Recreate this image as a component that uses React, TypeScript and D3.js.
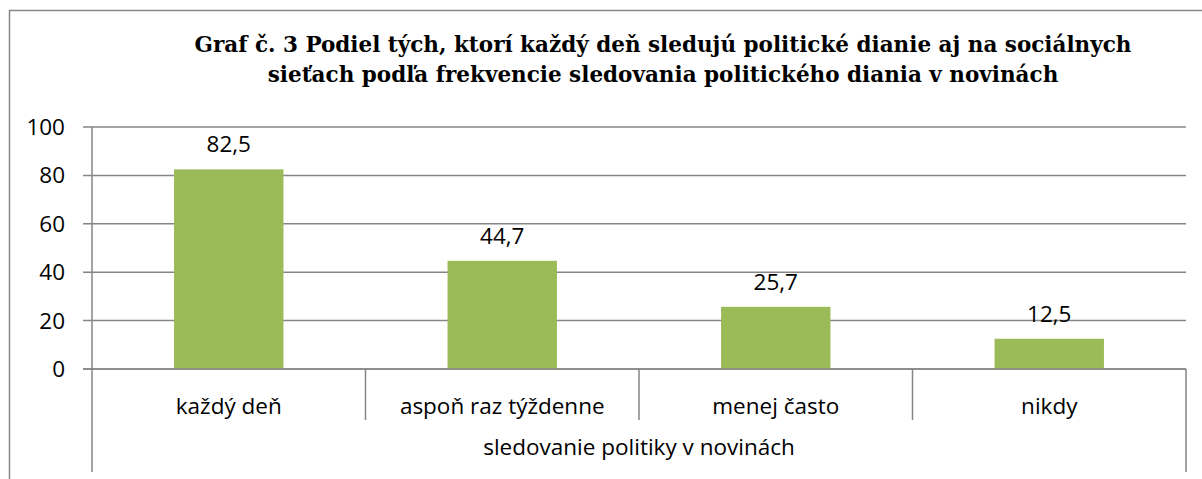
import React from "react";
import * as d3 from "d3";

const categories = ["každý deň", "aspoň raz týždenne", "menej často", "nikdy"];
const values = [82.5, 44.7, 25.7, 12.5];
const valueLabels = ["82,5", "44,7", "25,7", "12,5"];
const yTicks = [0, 20, 40, 60, 80, 100];
const titleLines = [
  "Graf č. 3 Podiel tých, ktorí každý deň sledujú politické dianie aj na sociálnych",
  "sieťach podľa frekvencie sledovania politického diania v novinách",
];
const axisTitle = "sledovanie politiky v novinách";

const W = 1202;
const H = 479;
const plotLeft = 92;
const plotRight = 1186;
const yTop = 127;
const yBottom = 369;
const gray = "#868686";
const barColor = "#9BBB59";
const sans = "'Open Sans', Lato, sans-serif";
const serif = "'DejaVu Serif', serif";
const fs = 22.5;

export default function App() {
  const x = d3
    .scaleBand<string>()
    .domain(categories)
    .range([plotLeft, plotRight])
    .paddingInner(0.6)
    .paddingOuter(0.3);
  const xOuter = d3.scaleBand<string>().domain(categories).range([plotLeft, plotRight]);
  const y = d3.scaleLinear().domain([0, 100]).range([yBottom, yTop]);

  return (
    <svg
      width={W}
      height={H}
      style={{ position: "absolute", left: 0, top: 0, background: "#fff" }}
    >
      <rect x={9.5} y={10.5} width={1210} height={490} fill="#fff" stroke={gray} strokeWidth={1.5} />
      {titleLines.map((t, i) => (
        <text
          key={i}
          x={663}
          y={52 + i * 30}
          textAnchor="middle"
          fontFamily={serif}
          fontWeight="bold"
          fontSize={21.5}
          fill="#000"
        >
          {t}
        </text>
      ))}
      {yTicks.map((t) => (
        <g key={t}>
          <line x1={83} x2={plotRight} y1={y(t)} y2={y(t)} stroke={gray} strokeWidth={1.5} />
          <text
            x={65}
            y={y(t) + 8}
            textAnchor="end"
            fontFamily={sans}
            fontSize={fs}
            fill="#000"
          >
            {t}
          </text>
        </g>
      ))}
      <line x1={plotLeft} x2={plotLeft} y1={yTop} y2={472} stroke={gray} strokeWidth={1.5} />
      {categories.map((c, i) => (
        <g key={c}>
          <rect
            x={x(c)!}
            y={y(values[i])}
            width={x.bandwidth()}
            height={yBottom - y(values[i])}
            fill={barColor}
          />
          <text
            x={x(c)! + x.bandwidth() / 2}
            y={y(values[i]) - 17}
            textAnchor="middle"
            fontFamily={sans}
            fontSize={fs}
            fill="#000"
          >
            {valueLabels[i]}
          </text>
          <text
            x={xOuter(c)! + xOuter.bandwidth() / 2}
            y={414}
            textAnchor="middle"
            fontFamily={sans}
            fontSize={fs}
            fill="#000"
          >
            {c}
          </text>
          {i > 0 && (
            <line
              x1={xOuter(c)!}
              x2={xOuter(c)!}
              y1={yBottom}
              y2={420}
              stroke={gray}
              strokeWidth={1.5}
            />
          )}
        </g>
      ))}
      <line x1={plotRight} x2={plotRight} y1={yBottom} y2={472} stroke={gray} strokeWidth={1.5} />
      <line x1={83} x2={plotRight} y1={yBottom} y2={yBottom} stroke={gray} strokeWidth={1.5} />
      <text
        x={(plotLeft + plotRight) / 2}
        y={455}
        textAnchor="middle"
        fontFamily={sans}
        fontSize={fs}
        fill="#000"
      >
        {axisTitle}
      </text>
    </svg>
  );
}
